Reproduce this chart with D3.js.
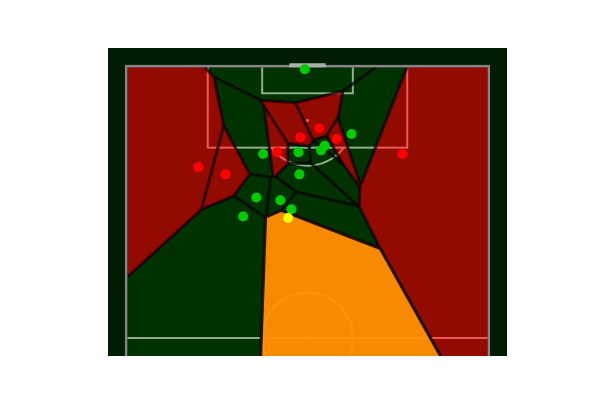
<!DOCTYPE html>
<html>
<head>
<meta charset="utf-8">
<script src="https://cdn.jsdelivr.net/npm/d3@7"></script>
<style>
  body { margin: 0; background: #fff; }
</style>
</head>
<body>
<script>
var width = 600, height = 400;

// positions des joueurs (across = largeur 0-80, length = longueur 0-120, but en haut)
var greenAcross = [39.4, 30.2, 38.0, 38.2, 28.7, 34.0, 36.45, 25.8, 49.7, 43.0, 43.8];
var greenLength = [119.3, 100.6, 101.0, 96.1, 91.0, 90.4, 88.4, 86.8, 105.0, 101.4, 102.4];
var redAcross = [38.4, 33.3, 15.9, 21.9, 42.6, 46.4, 60.9];
var redLength = [104.3, 101.0, 97.7, 96.1, 106.3, 103.9, 100.6];
var actorAcross = [35.7];
var actorLength = [86.45];

var svg = d3.select("body").append("svg")
    .attr("width", width)
    .attr("height", height);

// échelles : même nombre de pixels par unité dans les deux sens
var x = d3.scaleLinear().domain([-4, 84]).range([108, 507]);
var y = d3.scaleLinear().domain([124, 56]).range([48, 356]);

svg.append("clipPath").attr("id", "axes")
  .append("rect")
    .attr("x", 108).attr("y", 48).attr("width", 399).attr("height", 308);

var g = svg.append("g").attr("clip-path", "url(#axes)");

// fond du terrain
g.append("rect")
    .attr("x", 108).attr("y", 48).attr("width", 399).attr("height", 308)
    .attr("fill", "#001c00");

// lignes du terrain (sous les cellules)
var lineColor = "#e6e6e6";
var lines = g.append("g")
    .attr("fill", "none")
    .attr("stroke", lineColor)
    .attr("stroke-width", 2);

function box(a0, a1, l0, l1) {
  lines.append("rect")
      .attr("x", x(a0)).attr("y", y(l1))
      .attr("width", x(a1) - x(a0)).attr("height", y(l0) - y(l1));
}
box(18, 62, 102, 120);
box(30, 50, 114, 120);

lines.append("line")
    .attr("x1", x(0)).attr("x2", x(80))
    .attr("y1", y(60)).attr("y2", y(60));

var r = x(10) - x(0);
lines.append("circle")
    .attr("cx", x(40)).attr("cy", y(60)).attr("r", r);

// arc de la surface : partie sous la ligne des 18
var ang = Math.acos(6 / 10);
var arc = d3.arc()
    .innerRadius(r).outerRadius(r)
    .startAngle(Math.PI - ang).endAngle(Math.PI + ang);
lines.append("path")
    .attr("transform", "translate(" + x(40) + "," + y(108) + ")")
    .attr("d", arc());

g.append("circle")
    .attr("cx", x(40)).attr("cy", y(108)).attr("r", 1.6)
    .attr("fill", lineColor);
g.append("circle")
    .attr("cx", x(40)).attr("cy", y(60)).attr("r", 1.6)
    .attr("fill", lineColor);

// joueurs
var players = [];
greenAcross.forEach(function(d, i) {
  players.push({ px: x(d), py: y(greenLength[i]), team: "green" });
});
redAcross.forEach(function(d, i) {
  players.push({ px: x(d), py: y(redLength[i]), team: "red" });
});
actorAcross.forEach(function(d, i) {
  players.push({ px: x(d), py: y(actorLength[i]), team: "actor" });
});

var cellFill = { green: "rgb(0,88,0)", red: "rgb(239,0,0)", actor: "rgb(255,142,0)" };
var cellAlpha = { green: 0.38, red: 0.61, actor: 0.97 };
var dotFill = { green: "#00cc00", red: "#ff0000", actor: "#ffff00" };

var delaunay = d3.Delaunay.from(players, function(d) { return d.px; }, function(d) { return d.py; });
var voronoi = delaunay.voronoi([x(0), y(120), x(80), y(0)]);

// le porteur en dernier pour que sa cellule passe au-dessus
var order = d3.range(players.length).sort(function(a, b) {
  return (players[a].team == "actor") - (players[b].team == "actor");
});

g.append("g").selectAll("path")
  .data(order)
  .enter()
  .append("path")
    .attr("d", function(i) { return voronoi.renderCell(i); })
    .attr("fill", function(i) { return cellFill[players[i].team]; })
    .attr("fill-opacity", function(i) { return cellAlpha[players[i].team]; })
    .attr("stroke", function(i) { return players[i].team == "actor" ? "#1a0a00" : "#000"; })
    .attr("stroke-opacity", function(i) { return players[i].team == "actor" ? 0.9 : 0.5; })
    .attr("stroke-width", 3)
    .attr("stroke-linejoin", "round");

// bord du terrain et but
g.append("rect")
    .attr("x", x(0)).attr("y", y(120))
    .attr("width", x(80) - x(0)).attr("height", y(0) - y(120))
    .attr("fill", "none")
    .attr("stroke", "#858585")
    .attr("stroke-width", 2.5);

g.append("line")
    .attr("x1", x(36)).attr("x2", x(44))
    .attr("y1", y(120.2)).attr("y2", y(120.2))
    .attr("stroke", "#a8b0a8")
    .attr("stroke-width", 4);

g.append("g").selectAll("circle")
  .data(players)
  .enter()
  .append("circle")
    .attr("cx", function(d) { return d.px; })
    .attr("cy", function(d) { return d.py; })
    .attr("r", 5)
    .attr("fill", function(d) { return dotFill[d.team]; });
</script>
</body>
</html>
